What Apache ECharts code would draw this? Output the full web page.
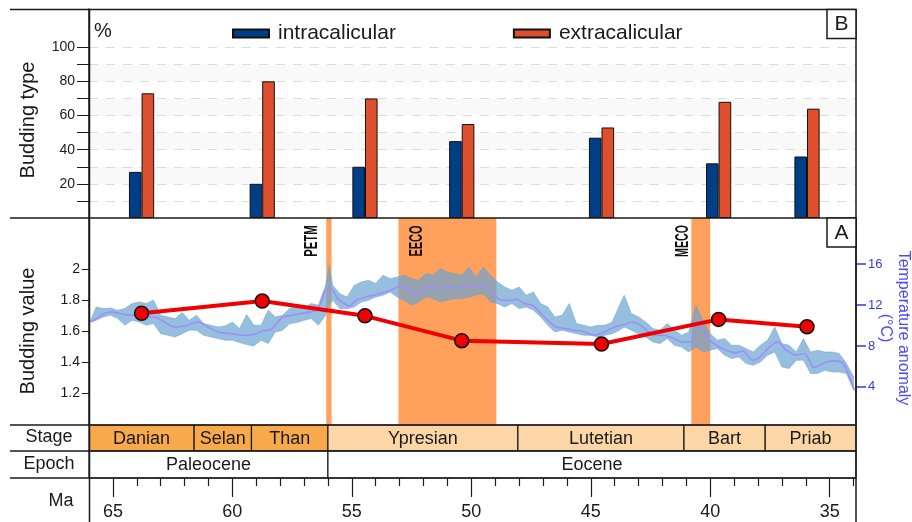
<!DOCTYPE html>
<html><head><meta charset="utf-8">
<script src="https://cdn.jsdelivr.net/npm/echarts@6/dist/echarts.min.js"></script>
<style>html,body{margin:0;padding:0;background:#fff}#c{width:912px;height:522px}</style>
</head><body><div id="c"></div>
<script>
// ---------- data ----------
const buddingAges = [63.8, 58.75, 54.45, 50.4, 44.55, 39.65, 35.95];
const buddingValue = [1.716, 1.795, 1.70, 1.54, 1.518, 1.677, 1.63];
const intracalicular = [27, 20, 30, 45, 47, 32, 36];
const extracalicular = [73, 80, 70, 55, 53, 68, 64];

const stageNames = ['Danian', 'Selan', 'Than', 'Ypresian', 'Lutetian', 'Bart', 'Priab'];
const stageStart = [66, 61.6, 59.2, 56, 48.05, 41.1, 37.7];
const stageEnd = [61.6, 59.2, 56, 48.05, 41.1, 37.7, 33.9];
const stageEpoch = [0, 0, 0, 1, 1, 1, 1];

const epochNames = ['Paleocene', 'Eocene'];
const epochStart = [66, 56];
const epochEnd = [56, 33.9];

const eventNames = ['PETM', 'EECO', 'MECO'];
const eventStart = [56.07, 53.05, 40.79];
const eventEnd = [55.85, 48.95, 40.0];

const tempSmooth = [[65.9,10.34],[65.35,11.16],[65.07,11.3],[64.5,11.06],[64.1,11.0],[63.8,10.83],[63.26,10.83],[62.84,10.34],[62.42,9.85],[62.0,9.95],[61.44,10.34],[61.02,9.85],[60.6,9.37],[60.05,9.2],[59.49,9.04],[59.07,9.11],[58.79,9.43],[58.37,9.63],[57.9,10.8],[57.47,11.0],[56.9,11.26],[56.49,11.48],[56.28,12.3],[56.14,13.27],[55.96,13.7],[55.8,13.43],[55.59,12.62],[55.31,12.14],[55.1,11.9],[54.82,12.46],[54.4,12.78],[53.84,13.1],[53.28,13.53],[53.0,13.85],[52.51,13.43],[52.31,12.95],[52.1,13.27],[51.75,13.92],[51.33,13.6],[50.91,13.76],[50.49,13.66],[50.0,13.92],[49.66,13.8],[49.45,13.92],[49.17,13.43],[48.96,12.78],[48.68,12.46],[48.33,12.46],[48.12,12.56],[47.77,12.14],[47.43,11.97],[47.15,11.32],[46.8,10.5],[46.45,9.85],[46.1,9.7],[45.68,9.53],[45.26,9.37],[44.85,9.04],[44.43,9.37],[44.0,9.85],[43.59,10.09],[43.31,10.34],[43.03,10.18],[42.75,9.7],[42.33,9.04],[41.92,9.04],[41.6,8.8],[41.15,8.39],[40.8,8.39],[40.52,9.85],[40.31,9.7],[40.1,8.72],[39.75,8.07],[39.33,7.58],[38.92,7.32],[38.64,7.51],[38.22,6.6],[37.94,6.87],[37.52,7.9],[37.18,8.39],[36.82,7.58],[36.4,7.09],[36.06,7.26],[35.64,5.89],[35.29,6.28],[34.87,6.54],[34.46,6.34],[34.18,4.98],[33.97,3.68]];

const tempNoisyMa = [65.7,65.4,65.1,64.8,64.5,64.2,63.9,63.6,63.3,63.0,62.7,62.4,62.1,61.8,61.5,61.2,60.9,60.6,60.3,60.0,59.7,59.4,59.1,58.8,58.5,58.2,57.9,57.6,57.3,57.0,56.7,56.4,56.1,55.95,55.8,55.5,55.2,54.9,54.6,54.3,54.0,53.7,53.4,53.1,52.8,52.5,52.2,51.9,51.6,51.3,51.0,50.7,50.4,50.1,49.8,49.5,49.2,48.9,48.6,48.3,48.0,47.7,47.4,47.1,46.8,46.5,46.2,45.9,45.6,45.3,45.0,44.7,44.4,44.1,43.8,43.6,43.3,43.0,42.7,42.4,42.1,41.8,41.5,41.2,40.9,40.6,40.3,40.0,39.7,39.4,39.1,38.8,38.5,38.2,37.9,37.6,37.3,37.0,36.7,36.4,36.1,35.8,35.5,35.2,34.9,34.6,34.3,34.0];
const tempNoisyTop = [11.8,11.65,11.7,11.48,11.65,12.14,12.3,12.14,12.46,11.0,10.83,10.67,11.26,10.5,11.0,10.18,10.02,9.85,9.95,10.34,9.7,11.06,10.02,10.02,11.48,10.83,11.0,11.65,11.9,11.7,12.14,11.97,13.92,15.87,13.92,13.1,12.78,13.92,14.24,14.41,14.09,14.9,14.57,14.73,14.9,14.57,14.41,15.06,14.9,15.55,15.22,15.06,14.9,15.71,14.73,15.71,14.9,14.24,13.76,13.43,13.76,12.95,13.27,12.14,11.8,10.83,11.0,12.14,10.18,10.02,9.85,10.02,10.02,10.34,11.97,12.95,11.16,10.83,10.34,9.7,9.53,10.18,9.53,9.04,9.37,11.97,10.5,9.2,8.56,8.72,8.07,8.07,7.75,7.41,8.07,8.56,9.85,8.23,8.07,7.41,8.72,7.41,7.58,7.41,7.41,7.26,6.28,4.98];
const tempNoisyBottom = [10.5,10.83,11.0,10.67,10.02,10.5,10.34,10.02,10.18,9.2,9.04,8.88,9.2,9.53,9.53,9.04,8.88,8.72,8.56,8.56,8.33,8.14,8.0,8.56,8.23,9.37,9.53,10.18,10.28,10.5,10.67,10.02,11.0,11.97,12.46,11.65,11.65,11.8,12.3,12.46,12.78,12.95,13.27,12.78,12.46,11.97,12.3,12.78,12.62,12.3,12.46,12.62,12.62,12.78,12.95,13.1,12.3,12.14,11.8,12.14,11.65,11.8,11.48,10.83,10.02,9.37,9.53,9.37,9.2,9.04,9.04,8.88,9.04,9.2,9.53,9.85,9.53,9.2,8.88,8.39,8.23,8.72,8.07,7.9,7.41,7.9,7.41,7.58,7.75,7.09,6.77,6.93,6.28,6.11,6.44,7.09,7.41,5.95,5.79,6.6,6.6,5.31,5.31,5.63,5.46,5.46,5.31,3.68];

const pctTicks = [10, 20, 30, 40, 50, 60, 70, 80, 90, 100];
const pctLabels = [20, 40, 60, 80, 100];
const buddingTicks = [1.2, 1.4, 1.6, 1.8, 2];
const tempTicks = [4, 8, 12, 16];
const maMajor = [35, 40, 45, 50, 55, 60, 65];
const maMinor = [34,36,37,38,39,41,42,43,44,46,47,48,49,51,52,53,54,56,57,58,59,61,62,63,64];

// ---------- layout ----------
const XMIN = 33.9, XMAX = 66;
const FONT = '"Liberation Sans", Arial, Helvetica, sans-serif';
const BLUE = '#2f3be0';
const stageColors = ['#f8a94c', '#fdd6a8'];

const chart = echarts.init(document.getElementById('c'), null, {renderer: 'canvas'});

function xAx(grid, extra) {
  return Object.assign({gridIndex: grid, type: 'value', min: XMIN, max: XMAX, inverse: true, show: false}, extra || {});
}
function yHidden(grid) {
  return {gridIndex: grid, type: 'value', min: 0, max: 1, show: false};
}

function cellRenderer(names, fills) {
  return function (params, api) {
    const s = api.value(0), e = api.value(1);
    const p1 = api.coord([s, 1]), p2 = api.coord([e, 0]);
    const x = Math.min(p1[0], p2[0]), w = Math.abs(p2[0] - p1[0]);
    const y = Math.min(p1[1], p2[1]), h = Math.abs(p2[1] - p1[1]);
    return {type: 'group', children: [
      {type: 'rect', shape: {x: x, y: y, width: w, height: h},
       style: {fill: fills(params.dataIndex), stroke: '#1a1a1a', lineWidth: 1.2}},
      {type: 'text', x: x + w / 2, y: y + h / 2 + 1,
       style: {text: names[params.dataIndex], font: '18px ' + FONT, fill: '#1a1a1a', align: 'center', verticalAlign: 'middle'}}
    ]};
  };
}

function hline(y, x1, x2) {
  return {type: 'line', z: 100, shape: {x1: x1, y1: y, x2: x2, y2: y}, style: {stroke: '#1a1a1a', lineWidth: 1.5}};
}
function vline(x, y1, y2) {
  return {type: 'line', z: 100, shape: {x1: x, y1: y1, x2: x, y2: y2}, style: {stroke: '#1a1a1a', lineWidth: 1.5}};
}
function txt(t, x, y, font, rot, fill, sx) {
  return {type: 'text', z: 101, x: x, y: y, rotation: rot || 0, scaleX: sx || 1,
    style: {text: t, font: font, fill: fill || '#1a1a1a', align: 'center', verticalAlign: 'middle'}};
}
function box(label, x, y) {
  return {type: 'group', z: 102, children: [
    {type: 'rect', z: 102, shape: {x: x, y: y, width: 29, height: 29}, style: {fill: '#fff', stroke: '#1a1a1a', lineWidth: 1.5}},
    {type: 'text', z: 103, x: x + 14.5, y: y + 15, style: {text: label, font: '21px ' + FONT, fill: '#1a1a1a', align: 'center', verticalAlign: 'middle'}}
  ]};
}

const eventLabelX = [312, 417, 683];

const option = {
  animation: false,
  textStyle: {fontFamily: FONT},
  grid: [
    {left: 89, right: 56, top: 9, height: 209},
    {left: 89, right: 56, top: 218, height: 206.5},
    {left: 89, right: 56, top: 425, height: 26},
    {left: 89, right: 56, top: 451, height: 27},
    {left: 89, right: 56, top: 434, height: 44},
    {left: 89, right: 56, top: 434, height: 44}
  ],
  legend: {
    left: 227, top: 18, itemWidth: 36, itemHeight: 8, itemGap: 117, icon: 'rect',
    textStyle: {fontSize: 21, color: '#1a1a1a', fontFamily: FONT, padding: [0, 0, 0, 4]},
    data: ['intracalicular', 'extracalicular']
  },
  xAxis: [
    xAx(0), xAx(1), xAx(2), xAx(3),
    xAx(4, {show: true, position: 'bottom', axisLine: {show: false}, splitLine: {show: false},
      axisTick: {show: true, length: 19, customValues: maMajor, lineStyle: {color: '#1a1a1a', width: 1.2}},
      axisLabel: {show: true, margin: 25, customValues: maMajor, fontSize: 18, color: '#1a1a1a'}}),
    xAx(5, {show: true, position: 'bottom', axisLine: {show: false}, splitLine: {show: false},
      axisTick: {show: true, length: 8, customValues: maMinor, lineStyle: {color: '#1a1a1a', width: 1.2}},
      axisLabel: {show: false}})
  ],
  yAxis: [
    {gridIndex: 0, type: 'value', min: 0, max: 122.35,
     axisLine: {show: true, lineStyle: {color: '#1a1a1a', width: 1.5}},
     axisTick: {show: true, length: 12, customValues: pctTicks, lineStyle: {color: '#1a1a1a'}},
     axisLabel: {customValues: pctLabels, fontSize: 14, color: '#1a1a1a', margin: 14},
     splitLine: {show: true, lineStyle: {type: [9, 8], color: '#dcdcdc'}},
     splitArea: {show: true, areaStyle: {color: ['#ffffff', '#f9f9f9']}}},
    {gridIndex: 1, type: 'value', min: 1, max: 2.33,
     axisLine: {show: true, lineStyle: {color: '#1a1a1a', width: 1.5}},
     axisTick: {show: true, length: 7, customValues: buddingTicks, lineStyle: {color: '#1a1a1a'}},
     axisLabel: {customValues: buddingTicks, fontSize: 14, color: '#1a1a1a', margin: 9},
     splitLine: {show: false}},
    {gridIndex: 1, type: 'value', position: 'right', min: 0.33, max: 20.49,
     axisLine: {show: true, lineStyle: {color: '#1a1a1a', width: 1.5}},
     axisTick: {show: true, length: 10, customValues: tempTicks, lineStyle: {color: BLUE, width: 1.5}},
     axisLabel: {customValues: tempTicks, fontSize: 13, color: BLUE, margin: 12},
     splitLine: {show: false}},
    yHidden(2), yHidden(3), yHidden(4), yHidden(5)
  ],
  series: [
    {name: 'intracalicular', type: 'bar', xAxisIndex: 0, yAxisIndex: 0, barWidth: 12.6, barGap: '0%',
     itemStyle: {color: '#003e87', borderColor: '#111', borderWidth: 1},
     data: buddingAges.map((a, i) => [a, intracalicular[i]])},
    {name: 'extracalicular', type: 'bar', xAxisIndex: 0, yAxisIndex: 0, barWidth: 12.6, barGap: '0%',
     itemStyle: {color: '#de502d', borderColor: '#111', borderWidth: 1},
     data: buddingAges.map((a, i) => [a, extracalicular[i]])},
    {name: 'events', type: 'custom', xAxisIndex: 1, yAxisIndex: 1, z: 1, silent: true,
     data: eventStart.map((s, i) => [s, eventEnd[i]]),
     renderItem: function (params, api) {
       const p1 = api.coord([api.value(0), 2.33]), p2 = api.coord([api.value(1), 1]);
       return {type: 'rect', shape: {x: Math.min(p1[0], p2[0]), y: p1[1], width: Math.abs(p2[0] - p1[0]), height: p2[1] - p1[1]},
         style: {fill: '#ffa05c'}};
     }},
    {name: 'tempBand', type: 'custom', xAxisIndex: 1, yAxisIndex: 2, z: 2, silent: true,
     data: [[0, 0]],
     renderItem: function (params, api) {
       const pts = [];
       pts.push(api.coord([65.97, 10.3]));
       for (let i = 0; i < tempNoisyMa.length; i++) pts.push(api.coord([tempNoisyMa[i], tempNoisyTop[i]]));
       for (let i = tempNoisyMa.length - 1; i >= 0; i--) pts.push(api.coord([tempNoisyMa[i], tempNoisyBottom[i]]));
       return {type: 'polygon', shape: {points: pts}, style: {fill: 'rgba(105,162,208,0.7)', stroke: 'rgba(105,162,208,0.5)', lineWidth: 1}};
     }},
    {name: 'tempSmooth', type: 'line', xAxisIndex: 1, yAxisIndex: 2, z: 3, symbol: 'none', smooth: 0.3,
     lineStyle: {color: '#9d8ef7', width: 1.6}, data: tempSmooth},
    {name: 'budding', type: 'line', xAxisIndex: 1, yAxisIndex: 1, z: 5, symbol: 'circle', symbolSize: 14,
     lineStyle: {color: '#f00000', width: 4},
     itemStyle: {color: '#f00000', borderColor: '#111', borderWidth: 1.5},
     data: buddingAges.map((a, i) => [a, buddingValue[i]])},
    {name: 'stages', type: 'custom', xAxisIndex: 2, yAxisIndex: 3, z: 4, silent: true,
     data: stageStart.map((s, i) => [s, stageEnd[i]]),
     renderItem: cellRenderer(stageNames, i => stageColors[stageEpoch[i]])},
    {name: 'epochs', type: 'custom', xAxisIndex: 3, yAxisIndex: 4, z: 4, silent: true,
     data: epochStart.map((s, i) => [s, epochEnd[i]]),
     renderItem: cellRenderer(epochNames, () => '#ffffff')}
  ],
  graphic: [
    hline(9.5, 10, 856), hline(218, 10, 856), hline(425, 10, 856), hline(451, 10, 856), hline(478, 10, 856),
    vline(89.5, 9, 522), vline(856, 9, 522),
    box('B', 827, 9.5), box('A', 827, 218),
    txt('%', 103, 31, '20px ' + FONT),
    txt('Budding type', 28, 120, '20px ' + FONT, Math.PI / 2),
    txt('Budding value', 28, 331, '20px ' + FONT, Math.PI / 2),
    txt('Stage', 49, 437.5, '18px ' + FONT),
    txt('Epoch', 49, 464.5, '18px ' + FONT),
    txt('Ma', 61, 501, '18px ' + FONT),
    txt('Temperature anomaly', 903, 328, '16px ' + FONT, -Math.PI / 2, '#4a4af5'),
    txt('(°C)', 885, 328, '16px ' + FONT, -Math.PI / 2, '#4a4af5'),
    txt(eventNames[0], eventLabelX[0], 241, 'bold 19px ' + FONT, Math.PI / 2, '#111', 0.6),
    txt(eventNames[1], eventLabelX[1], 241, 'bold 19px ' + FONT, Math.PI / 2, '#111', 0.58),
    txt(eventNames[2], eventLabelX[2], 241, 'bold 19px ' + FONT, Math.PI / 2, '#111', 0.56)
  ]
};
chart.setOption(option);
</script>
</body></html>
